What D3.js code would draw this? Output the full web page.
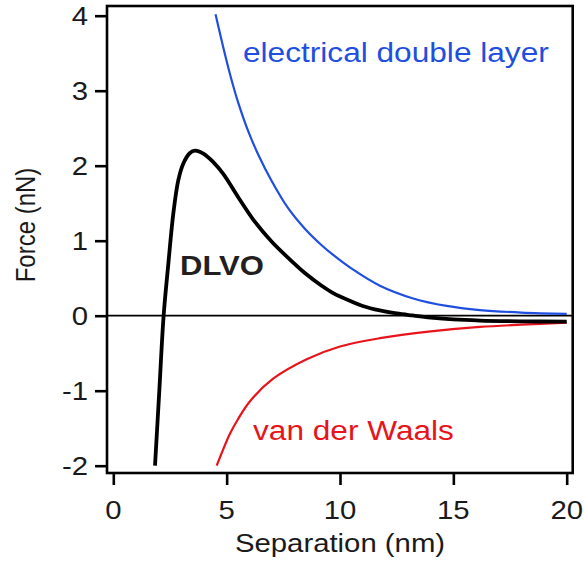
<!DOCTYPE html>
<html>
<head>
<meta charset="utf-8">
<script src="https://cdn.jsdelivr.net/npm/d3@7/dist/d3.min.js"></script>
<style>
  html, body { margin: 0; padding: 0; background: #fff; }
  svg { display: block; font-family: "Liberation Sans", Arial, Helvetica, sans-serif; }
</style>
</head>
<body>
<svg id="chart" width="584" height="566"></svg>
<script>
// Electrical double layer repulsion (nm, nN)
const edlX = [4.51, 4.93, 5.22, 5.51, 5.95, 6.39, 6.98, 7.72, 8.45, 9.19, 9.70, 10.5, 11.76, 13.23, 14.70, 16.17, 18.0, 20.0];
const edlF = [4.02, 3.48, 3.14, 2.84, 2.46, 2.15, 1.80, 1.43, 1.16, 0.94, 0.81, 0.63, 0.40, 0.23, 0.13, 0.075, 0.042, 0.025];

// van der Waals attraction
const vdwX = [4.56, 5.15, 5.5, 6.03, 7.05, 8.53, 10.0, 11.76, 14.0, 16.17, 18.0, 20.0];
const vdwF = [-2.0, -1.57, -1.38, -1.14, -0.84, -0.58, -0.41, -0.30, -0.21, -0.15, -0.12, -0.093];

// Combined DLVO force
const dlvoX = [1.84, 2.03, 2.22, 2.43, 2.65, 2.87, 3.09, 3.38, 3.60, 3.97, 4.40, 4.85, 5.51, 6.25, 6.98, 7.72, 8.45, 9.19, 9.70, 10.5, 11.0, 11.76, 12.5, 13.2, 14.0, 15.0, 16.17, 18.0, 20.0];
const dlvoF = [-2.0, -1.0, 0.0, 0.70, 1.37, 1.81, 2.03, 2.17, 2.20, 2.16, 2.05, 1.89, 1.58, 1.25, 0.99, 0.77, 0.57, 0.40, 0.30, 0.19, 0.13, 0.07, 0.03, 0.003, -0.025, -0.05, -0.065, -0.075, -0.08];

const xTicks = [0, 5, 10, 15, 20];
const yTicks = [-2, -1, 0, 1, 2, 3, 4];

const svg = d3.select("#chart");

const x = d3.scaleLinear().domain([0, 20]).range([113.3, 566.7]);
const y = d3.scaleLinear().domain([-2, 4]).range([465.7, 15.7]);

// plot frame
const frame = { left: 107, right: 572.7, top: 6, bottom: 473 };

// glyphs are drawn slightly wide
const stretch = 1.15;
const ink = "#1a1a1a";

// zero reference line
svg.append("line")
  .attr("x1", frame.left).attr("x2", frame.right)
  .attr("y1", y(0)).attr("y2", y(0))
  .attr("stroke", "#000").attr("stroke-width", 1.8);

const line = d3.line()
  .x(d => x(d[0]))
  .y(d => y(d[1]))
  .curve(d3.curveCatmullRom.alpha(0.5));

const zip = (a, b) => a.map((v, i) => [v, b[i]]);

svg.append("path")
  .attr("d", line(zip(edlX, edlF)))
  .attr("fill", "none").attr("stroke", "#1f4fe0").attr("stroke-width", 2.2);

svg.append("path")
  .attr("d", line(zip(vdwX, vdwF)))
  .attr("fill", "none").attr("stroke", "#e8141c").attr("stroke-width", 2.2);

svg.append("path")
  .attr("d", line(zip(dlvoX, dlvoF)))
  .attr("fill", "none").attr("stroke", "#000").attr("stroke-width", 3.8);

// frame box
svg.append("rect")
  .attr("x", frame.left).attr("y", frame.top)
  .attr("width", frame.right - frame.left).attr("height", frame.bottom - frame.top)
  .attr("fill", "none").attr("stroke", "#000").attr("stroke-width", 2.6);

// left axis ticks
const gy = svg.append("g").attr("transform", `translate(${frame.left},0)`)
  .call(d3.axisLeft(y).tickValues(yTicks).tickSize(12).tickFormat(""));
gy.select(".domain").remove();
gy.selectAll(".tick line").attr("stroke", "#000").attr("stroke-width", 2.6);

// bottom axis ticks
const gx = svg.append("g").attr("transform", `translate(0,${frame.bottom})`)
  .call(d3.axisBottom(x).tickValues(xTicks).tickSize(12).tickFormat(""));
gx.select(".domain").remove();
gx.selectAll(".tick line").attr("stroke", "#000").attr("stroke-width", 2.6);

// tick labels
svg.append("g").selectAll("text")
  .data(yTicks).join("text")
  .attr("transform", d => `translate(88,${y(d) + 9}) scale(${stretch},1)`)
  .attr("text-anchor", "end")
  .attr("font-size", 25.5).attr("fill", ink)
  .text(d => String(d));

svg.append("g").selectAll("text")
  .data(xTicks).join("text")
  .attr("transform", d => `translate(${x(d)},519) scale(${stretch},1)`)
  .attr("text-anchor", "middle")
  .attr("font-size", 25.5).attr("fill", ink)
  .text(d => String(d));

// axis titles
svg.append("text")
  .attr("transform", `translate(340,552) scale(${stretch},1)`)
  .attr("text-anchor", "middle")
  .attr("font-size", 25.5).attr("fill", ink)
  .text("Separation (nm)");

svg.append("text")
  .attr("transform", `translate(35,225) rotate(-90) scale(1,${stretch})`)
  .attr("text-anchor", "middle")
  .attr("font-size", 24).attr("fill", ink)
  .text("Force (nN)");

// curve labels
svg.append("text")
  .attr("transform", `translate(243,61.7) scale(${stretch},1)`)
  .attr("font-size", 27.5).attr("fill", "#1f4fe0")
  .text("electrical double layer");

svg.append("text")
  .attr("transform", `translate(253,440) scale(${stretch},1)`)
  .attr("font-size", 27.5).attr("fill", "#e8141c")
  .text("van der Waals");

svg.append("text")
  .attr("transform", `translate(180,275) scale(${stretch},1)`)
  .attr("font-size", 27).attr("font-weight", "bold").attr("fill", "#231f20")
  .text("DLVO");
</script>
</body>
</html>
